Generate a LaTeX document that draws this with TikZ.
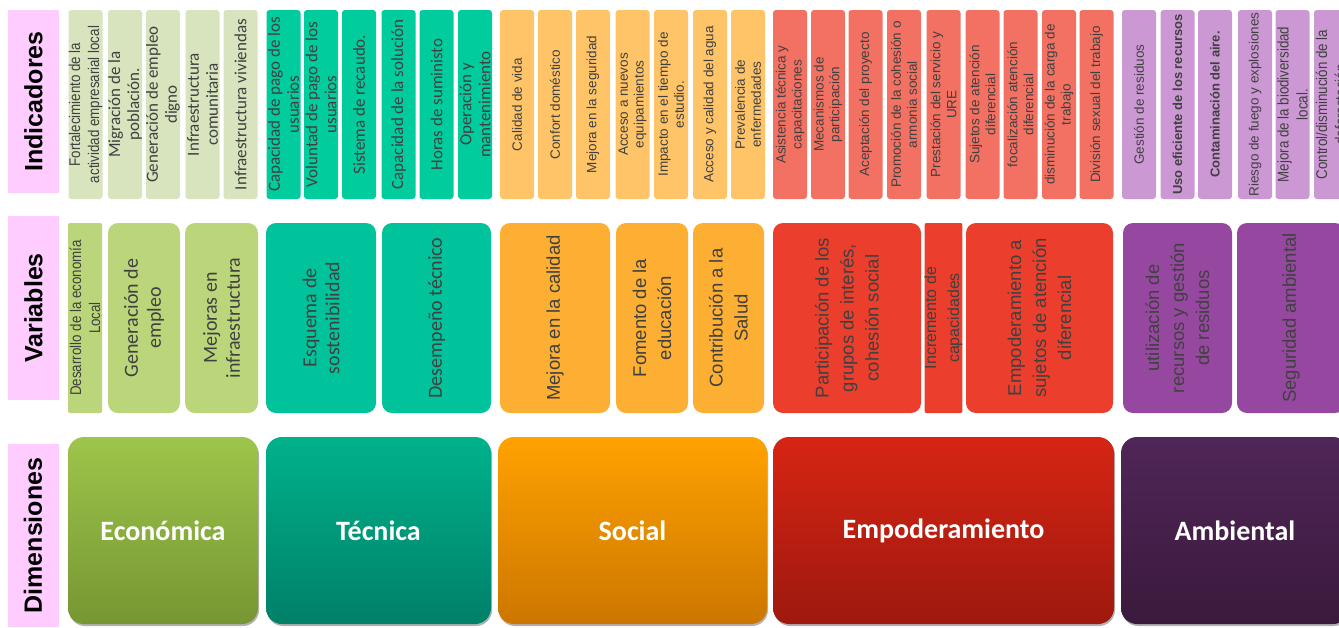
\documentclass[tikz,border=0pt]{standalone}
\usepackage{fontspec}
\setmainfont{Liberation Sans}
\newfontfamily\calibri{Carlito}
\newfontfamily\narrowfont[FakeStretch=0.86]{Liberation Sans}
\usetikzlibrary{shadows}

\definecolor{lblpink}{RGB}{255,204,255}
\definecolor{txtgray}{RGB}{64,64,64}
\definecolor{indeco}{RGB}{215,228,189}
\definecolor{indtec}{RGB}{0,204,158}
\definecolor{indsoc}{RGB}{255,196,104}
\definecolor{indemp}{RGB}{242,113,98}
\definecolor{indamb}{RGB}{204,152,212}
\definecolor{vareco}{RGB}{187,214,122}
\definecolor{vartec}{RGB}{0,195,155}
\definecolor{varsoc}{RGB}{252,175,50}
\definecolor{varemp}{RGB}{236,62,44}
\definecolor{varamb}{RGB}{150,72,160}

\tikzset{
  rowlabel/.style={rotate=90, fill=lblpink, minimum height=51pt, inner sep=0pt,
    font=\bfseries\fontsize{25}{30}\selectfont},
  indbox/.style={rotate=90, rounded corners=3pt, minimum width=189pt, minimum height=34pt,
    inner sep=0pt, align=center, text=txtgray},
  varbox/.style={rotate=90, rounded corners=10pt, minimum width=190pt,
    inner sep=0pt, align=center, text=txtgray},
  dimbox/.style={rounded corners=16pt, minimum height=187pt, inner sep=0pt, text=white,
    font=\calibri\bfseries\fontsize{28}{34}\selectfont,
    drop shadow={shadow xshift=1pt, shadow yshift=-2pt, opacity=.3, fill=black}},
  arialind/.style={font=\fontsize{13.5}{16}\selectfont},
  boldind/.style={font=\bfseries\fontsize{13}{16}\selectfont},
  calind/.style={font=\calibri\fontsize{17}{19}\selectfont},
  narrowind/.style={font=\narrowfont\fontsize{15.5}{19}\selectfont},
  arialvar/.style={font=\fontsize{18.5}{25}\selectfont},
  calvar/.style={font=\calibri\fontsize{20}{23}\selectfont}
}

\begin{document}
\begin{tikzpicture}[x=1pt, y=-1pt]
    \useasboundingbox (0,0) rectangle (1339,627);
    \clip (0,0) rectangle (1339,627);
    \fill[white] (0,0) rectangle (1339,627);

    \node[rowlabel, minimum width=183pt] (lind) at (33.5,101.5) {Indicadores};
    \node[rowlabel, minimum width=184pt] (lvar) at (33.5,308) {Variables};
    \node[rowlabel, minimum width=183pt] (ldim) at (33,535.5) {Dimensiones};

        \node[indbox, fill=indeco, narrowind] (i1) at (85.5,104.5) {Fortalecimiento de la\\actividad empresarial local};
        \node[indbox, fill=indeco, calind] (i2) at (125,104.5) {Migración de la\\población.};
        \node[indbox, fill=indeco, calind] (i3) at (163,104.5) {Generación de empleo\\digno};
        \node[indbox, fill=indeco, calind] (i4) at (202.5,104.5) {Infraestructura\\comunitaria};
        \node[indbox, fill=indeco, calind] (i5) at (240.5,104.5) {Infraestructura viviendas};

        \node[indbox, fill=indtec, calind] (i6) at (283.5,104.5) {Capacidad de pago de los\\usuarios};
        \node[indbox, fill=indtec, calind] (i7) at (321,104.5) {Voluntad de pago de los\\usuarios};
        \node[indbox, fill=indtec, calind] (i8) at (359,104.5) {Sistema de recaudo.};
        \node[indbox, fill=indtec, calind] (i9) at (398.5,104.5) {Capacidad de la solución};
        \node[indbox, fill=indtec, calind] (i10) at (436.5,104.5) {Horas de suministo};
        \node[indbox, fill=indtec, calind] (i11) at (475,104.5) {Operación y\\mantenimiento};

        \node[indbox, fill=indsoc, arialind] (i12) at (517,104.5) {Calidad de vida};
        \node[indbox, fill=indsoc, arialind] (i13) at (555,104.5) {Confort doméstico};
        \node[indbox, fill=indsoc, arialind] (i14) at (593,104.5) {Mejora en la seguridad};
        \node[indbox, fill=indsoc, arialind] (i15) at (632.5,104.5) {Acceso a nuevos\\equipamientos};
        \node[indbox, fill=indsoc, arialind] (i16) at (671,104.5) {Impacto en el tiempo de\\estudio.};
        \node[indbox, fill=indsoc, arialind] (i17) at (710,104.5) {Acceso y calidad del agua};
        \node[indbox, fill=indsoc, arialind] (i18) at (748,104.5) {Prevalencia de\\enfermedades};

        \node[indbox, fill=indemp, arialind] (i19) at (790,104.5) {Asistencia técnica y\\capacitaciones};
        \node[indbox, fill=indemp, arialind] (i20) at (828,104.5) {Mecanismos de\\participación};
        \node[indbox, fill=indemp, arialind] (i21) at (865.5,104.5) {Aceptación del proyecto};
        \node[indbox, fill=indemp, arialind] (i22) at (904,104.5) {Promoción de la cohesión o\\armonia social};
        \node[indbox, fill=indemp, arialind] (i23) at (943.5,104.5) {Prestación del servicio y\\URE};
        \node[indbox, fill=indemp, arialind] (i24) at (982.5,104.5) {Sujetos de atención\\diferencial};
        \node[indbox, fill=indemp, arialind] (i25) at (1020.5,104.5) {focalización atención\\diferencial};
        \node[indbox, fill=indemp, arialind] (i26) at (1059,104.5) {disminución de la carga de\\trabajo};
        \node[indbox, fill=indemp, arialind] (i27) at (1096.5,104.5) {División sexual del trabajo};

        \node[indbox, fill=indamb, arialind] (i28) at (1139,104.5) {Gestión de residuos};
        \node[indbox, fill=indamb, boldind] (i29) at (1177.5,104.5) {Uso eficiente de los recursos};
        \node[indbox, fill=indamb, boldind] (i30) at (1215,104.5) {Contaminación del aire.};
        \node[indbox, fill=indamb, arialind] (i31) at (1255,104.5) {Riesgo de fuego y explosiones};
        \node[indbox, fill=indamb, narrowind] (i32) at (1292.5,104.5) {Mejora de la biodiversidad\\local.};
        \node[indbox, fill=indamb, narrowind] (i33) at (1331,104.5) {Control/disminución de la\\deforestación};

        \node[varbox, fill=vareco, narrowind, rounded corners=2pt, minimum height=34pt] (v1) at (85,318) {Desarrollo de la economía\\Local};
        \node[varbox, fill=vareco, calvar, minimum height=72pt] (v2) at (144,318) {Generación de\\empleo};
        \node[varbox, fill=vareco, calvar, minimum height=73pt] (v3) at (221.5,318) {Mejoras en\\infraestructura};

        \node[varbox, fill=vartec, calvar, minimum height=110pt] (v4) at (321,318) {Esquema de\\sostenibilidad};
        \node[varbox, fill=vartec, calvar, minimum height=109pt] (v5) at (436.5,318) {Desempeño técnico};

        \node[varbox, fill=varsoc, arialvar, minimum height=110pt] (v6) at (555,318) {Mejora en la calidad};
        \node[varbox, fill=varsoc, arialvar, minimum height=72pt] (v7) at (652,318) {Fomento de la\\educación};
        \node[varbox, fill=varsoc, arialvar, minimum height=71pt] (v8) at (728.5,318) {Contribución a la\\Salud};

        \node[varbox, fill=varemp, arialvar, minimum height=148pt] (v9) at (847,318) {Participación de los\\grupos de interés,\\cohesión social};
        \node[varbox, fill=varemp, rounded corners=2pt, minimum height=33pt,
            font=\fontsize{16}{23}\selectfont] (v10) at (943.5,318) {Incremento de\\capacidades};
        \node[varbox, fill=varemp, arialvar, minimum height=147pt] (v11) at (1039.5,318) {Empoderamiento a\\sujetos de atención\\diferencial};

        \node[varbox, fill=varamb, arialvar, minimum height=109pt] (v12) at (1177.5,318) {utilización de\\recursos y gestión\\de residuos};
        \node[varbox, fill=varamb, arialvar, minimum height=108pt] (v13) at (1291,318) {Seguridad ambiental};

    \node[dimbox, minimum width=190pt, top color={rgb,255:red,158;green,197;blue,75},
        bottom color={rgb,255:red,118;green,150;blue,50}] (d1) at (163,530.5) {Económica};
    \node[dimbox, minimum width=225pt, top color={rgb,255:red,0;green,178;blue,140},
        bottom color={rgb,255:red,0;green,128;blue,104}] (d2) at (378.5,530.5) {Técnica};
    \node[dimbox, minimum width=269pt, top color={rgb,255:red,255;green,162;blue,0},
        bottom color={rgb,255:red,204;green,118;blue,0}] (d3) at (632.5,530.5) {Social};
    \node[dimbox, minimum width=341pt, top color={rgb,255:red,214;green,37;blue,20},
        bottom color={rgb,255:red,158;green,25;blue,14}] (d4) at (943.5,530.5) {Empoderamiento};
    \node[dimbox, minimum width=228pt, top color={rgb,255:red,80;green,38;blue,88},
        bottom color={rgb,255:red,58;green,26;blue,60}] (d5) at (1235,530.5) {Ambiental};
\end{tikzpicture}
\end{document}
